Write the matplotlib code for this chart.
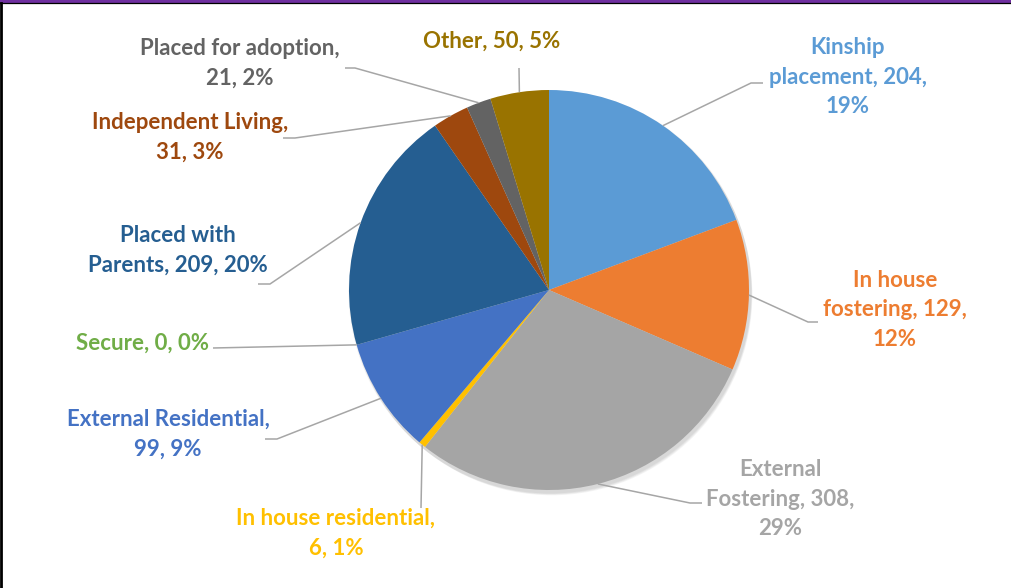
import matplotlib
matplotlib.use("Agg")
import matplotlib.pyplot as plt
import numpy as np
from matplotlib.patches import Circle

# ---- data ----
categories = ["Kinship placement", "In house fostering", "External Fostering",
              "In house residential", "External Residential", "Secure",
              "Placed with Parents", "Independent Living", "Placed for adoption", "Other"]
values = [204, 129, 308, 6, 99, 0, 209, 31, 21, 50]
label_templates = ["Kinship\nplacement, {v},\n{p}%",
                   "In house\nfostering, {v},\n{p}%",
                   "External\nFostering, {v},\n{p}%",
                   "In house residential,\n{v}, {p}%",
                   "External Residential,\n{v}, {p}%",
                   "Secure, {v}, {p}%",
                   "Placed with\nParents, {v}, {p}%",
                   "Independent Living,\n{v}, {p}%",
                   "Placed for adoption,\n{v}, {p}%",
                   "Other, {v}, {p}%"]
colors = ["#5B9BD5", "#ED7D31", "#A5A5A5", "#FFC000", "#4472C4",
          "#70AD47", "#255E91", "#9E480E", "#636363", "#997300"]

# ---- layout (pixel coords, y from top) ----
W, H = 1011, 588
CX, CY, R = 549, 290, 200
label_pos = [(848, 77), (895, 310), (780, 499), (336, 533), (168, 434),
             (143, 343), (178, 250), (190, 137), (240, 63), (492, 41)]
# leader line: (label-end point, knee point)
leader = [((763, 83), (751, 83)), ((818, 322), (808, 322)), ((702, 503), (690, 503)),
          ((421, 508), (421, 508)), ((265, 439), (277, 439)), ((213, 348), (213, 348)),
          ((258, 284), (270, 284)), ((283, 138), (295, 138)), ((345, 68), (355, 68)),
          ((519, 68), (519, 68))]

def Y(y):
    return H - y

fig = plt.figure(figsize=(W / 100, H / 100), dpi=100)
ax = fig.add_axes([0, 0, 1, 1])
ax.set_xlim(0, W)
ax.set_ylim(0, H)
ax.set_aspect("equal")
ax.axis("off")

# soft shadow
for i, a in enumerate([0.04, 0.04, 0.04, 0.04]):
    ax.add_patch(Circle((CX + 1 + i * 0.6, Y(CY) - 2 - i * 0.9), R + 1.5 - i * 0.3,
                        color="black", alpha=a, lw=0, zorder=1))

wedges, _ = ax.pie(values, colors=colors, startangle=90, counterclock=False,
                   center=(CX, Y(CY)), radius=R, frame=True,
                   wedgeprops=dict(linewidth=0, zorder=2))
ax.set_xlim(0, W)
ax.set_ylim(0, H)
ax.axis("off")

total = sum(values)
cum = np.cumsum([0] + values)
for i, (cat, v) in enumerate(zip(categories, values)):
    p = int(round(100 * v / total))
    txt = label_templates[i].format(v=v, p=p)
    lx, ly = label_pos[i]
    ax.text(lx, Y(ly), txt, ha="center", va="center", multialignment="center",
            color=colors[i], fontsize=16, fontweight="bold", family="Lato",
            linespacing=1.5, zorder=5)
    mid = (cum[i] + cum[i + 1]) / 2 / total
    ang = np.deg2rad(90 - 360 * mid)
    ex, ey = CX + R * np.cos(ang), Y(CY) + R * np.sin(ang)
    (sx, sy), (kx, ky) = leader[i]
    ax.plot([sx, kx, ex], [Y(sy), Y(ky), ey], color="#A6A6A6", lw=1.1,
            zorder=3, solid_capstyle="butt")

# frame lines
ax.plot([0, W], [H - 1, H - 1], color="#7030A0", lw=2.2, zorder=10, clip_on=False)
ax.plot([0, W], [H - 3, H - 3], color="black", lw=0.9, zorder=10, clip_on=False)
ax.plot([1, 1], [0, H - 3], color="black", lw=2, zorder=10, clip_on=False)

fig.savefig("out.png", dpi=100, facecolor="white")
